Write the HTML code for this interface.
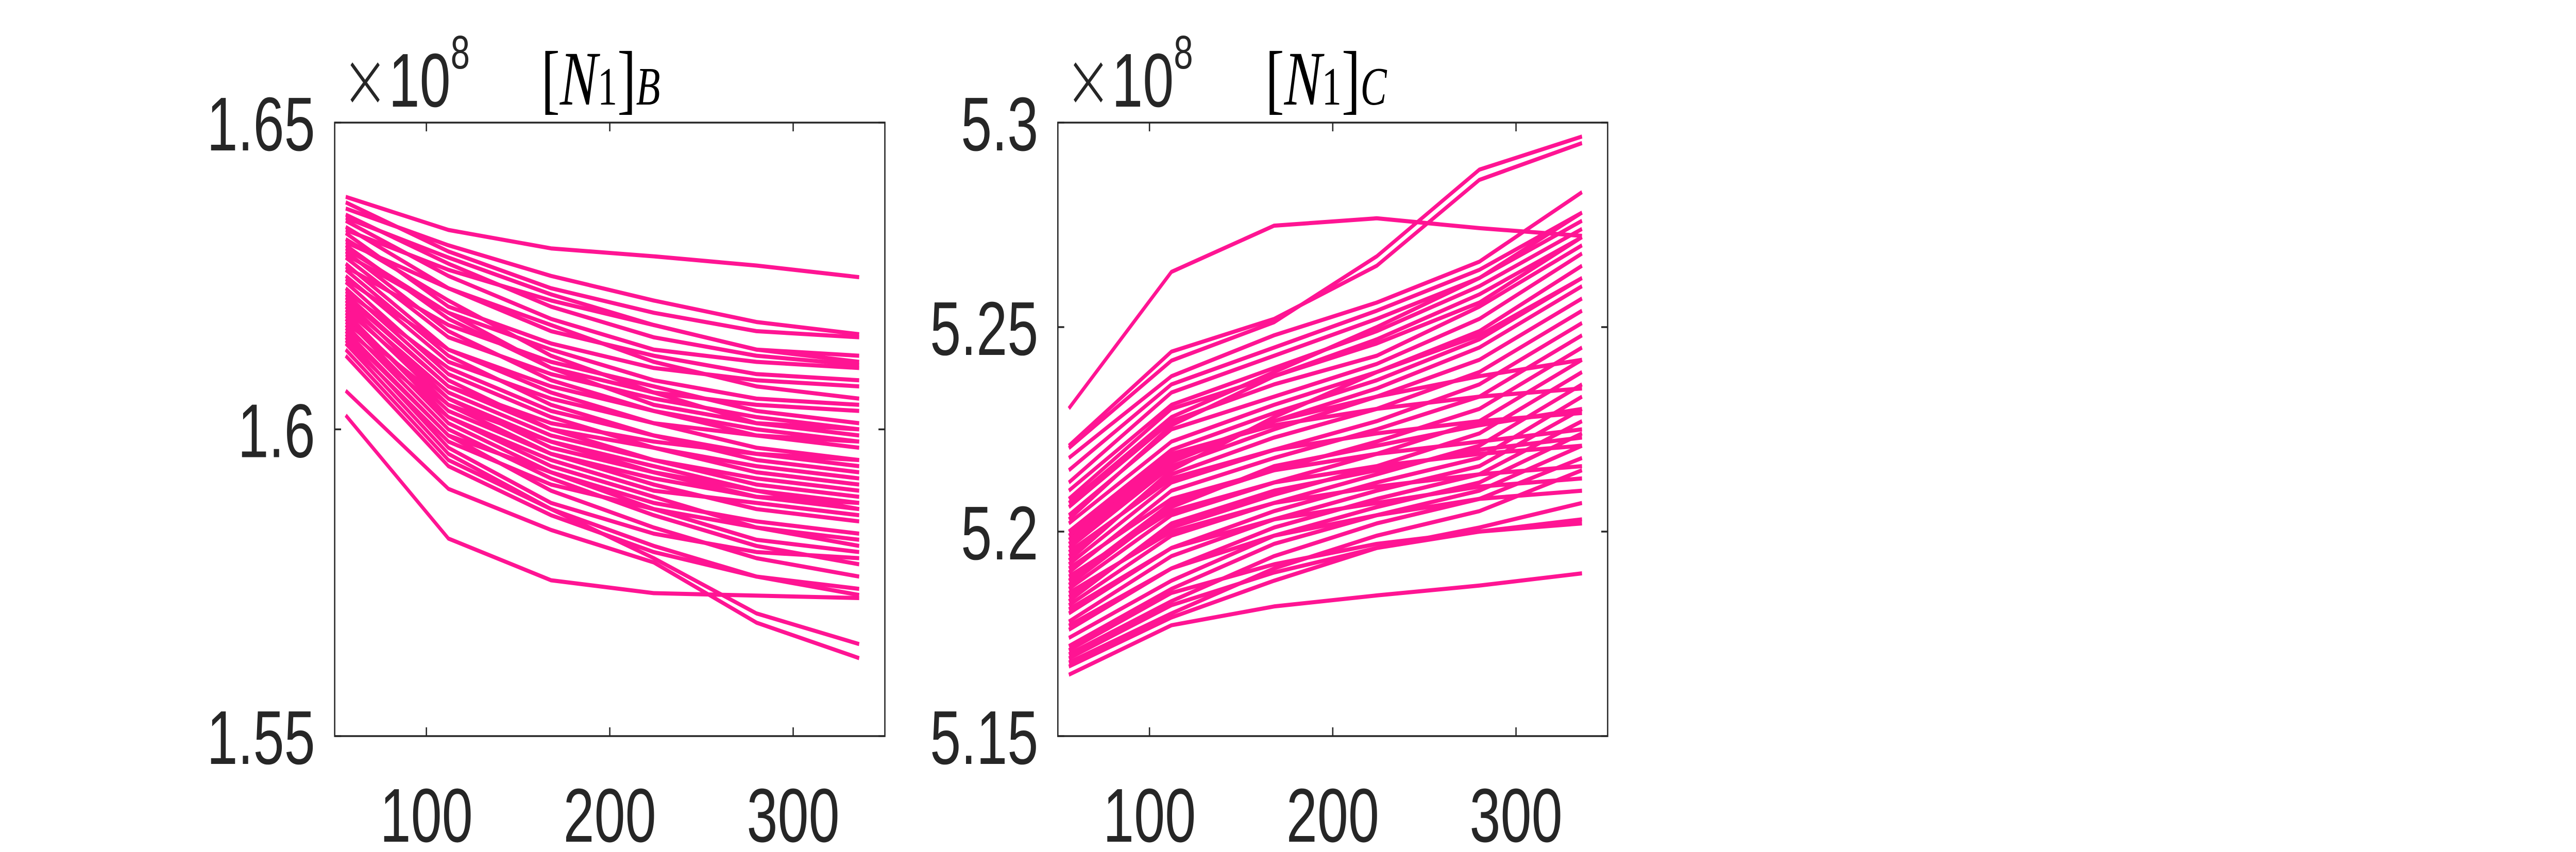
<!DOCTYPE html>
<html><head><meta charset="utf-8"><style>
html,body{margin:0;padding:0;background:#fff;width:100%;height:100%;overflow:hidden;}
svg{display:block;position:fixed;left:0;top:0;width:100vw;height:100vh;}
</style></head><body>
<svg id="fig" viewBox="0 0 6850 1654" preserveAspectRatio="none" xmlns="http://www.w3.org/2000/svg">
<rect x="0" y="0" width="6850" height="1654" fill="#ffffff"/>
</svg>
<script>
const xValues = [56, 112, 168, 224, 280, 336];
const xTicks = [100, 200, 300];
const xTickLabels = ["100", "200", "300"];
const yTicksB = [1.55, 1.6, 1.65];
const yTickLabelsB = ["1.55", "1.6", "1.65"];
const yTicksC = [5.15, 5.2, 5.25, 5.3];
const yTickLabelsC = ["5.15", "5.2", "5.25", "5.3"];
const seriesB = [
[1.6379,1.6325,1.6295,1.6282,1.6267,1.6248],
[1.6023,1.5822,1.5754,1.5733,1.5729,1.5725],
[1.6063,1.5903,1.5836,1.5783,1.5685,1.5627],
[1.6370,1.6290,1.6230,1.6190,1.6160,1.6150],
[1.6360,1.6300,1.6250,1.6210,1.6175,1.6155],
[1.6350,1.6270,1.6200,1.6150,1.6120,1.6105],
[1.6340,1.6250,1.6180,1.6130,1.6110,1.6100],
[1.6330,1.6230,1.6160,1.6120,1.6090,1.6080],
[1.6320,1.6200,1.6140,1.6100,1.6080,1.6070],
[1.6310,1.6210,1.6120,1.6060,1.6010,1.5990],
[1.6300,1.6180,1.6100,1.6060,1.6040,1.6030],
[1.6290,1.6160,1.6080,1.6030,1.6000,1.5980],
[1.6280,1.6150,1.6090,1.6050,1.6020,1.6000],
[1.6270,1.6130,1.6060,1.6010,1.5970,1.5950],
[1.6260,1.6120,1.6040,1.5990,1.5950,1.5930],
[1.6250,1.6110,1.6050,1.6010,1.5990,1.5980],
[1.6240,1.6090,1.6020,1.5970,1.5930,1.5910],
[1.6230,1.6080,1.6000,1.5950,1.5910,1.5890],
[1.6220,1.6070,1.6010,1.5980,1.5960,1.5950],
[1.6210,1.6050,1.5980,1.5930,1.5890,1.5870],
[1.6200,1.6040,1.5960,1.5910,1.5870,1.5850],
[1.6190,1.6020,1.5940,1.5890,1.5840,1.5810],
[1.6180,1.6010,1.5930,1.5880,1.5850,1.5830],
[1.6170,1.6000,1.5920,1.5860,1.5810,1.5780],
[1.6160,1.5990,1.5900,1.5840,1.5790,1.5760],
[1.6150,1.5970,1.5880,1.5830,1.5800,1.5790],
[1.6140,1.5960,1.5870,1.5810,1.5760,1.5730],
[1.6120,1.5940,1.5860,1.5800,1.5760,1.5740],
[1.6345,1.6280,1.6220,1.6170,1.6130,1.6110],
[1.6325,1.6260,1.6210,1.6170,1.6130,1.6120],
[1.6305,1.6230,1.6170,1.6110,1.6070,1.6050],
[1.6285,1.6190,1.6130,1.6080,1.6050,1.6040],
[1.6265,1.6170,1.6110,1.6070,1.6030,1.6010],
[1.6245,1.6130,1.6070,1.6030,1.5990,1.5970],
[1.6225,1.6100,1.6030,1.5990,1.5960,1.5940],
[1.6205,1.6060,1.5990,1.5950,1.5920,1.5900],
[1.6185,1.6030,1.5960,1.5920,1.5890,1.5880],
[1.6165,1.6020,1.5950,1.5900,1.5880,1.5860],
[1.6145,1.5980,1.5910,1.5870,1.5840,1.5820],
[1.6130,1.5950,1.5870,1.5790,1.5700,1.5650],
[1.6155,1.5990,1.5930,1.5870,1.5820,1.5800],
[1.6215,1.6070,1.6000,1.5970,1.5940,1.5920],
[1.6295,1.6190,1.6100,1.6040,1.6010,1.6000],
[1.6195,1.6050,1.5970,1.5930,1.5900,1.5880],
[1.6175,1.6040,1.5980,1.5940,1.5900,1.5870]
];
const seriesC = [
[5.2301,5.2635,5.2748,5.2766,5.2742,5.2723],
[5.1650,5.1771,5.1817,5.1844,5.1868,5.1898],
[5.2204,5.2418,5.2512,5.2673,5.2885,5.2966],
[5.2210,5.2440,5.2520,5.2650,5.2860,5.2950],
[5.2180,5.2380,5.2480,5.2560,5.2660,5.2830],
[5.2150,5.2360,5.2450,5.2540,5.2640,5.2780],
[5.2120,5.2340,5.2430,5.2520,5.2620,5.2760],
[5.2100,5.2310,5.2400,5.2490,5.2600,5.2740],
[5.2080,5.2300,5.2380,5.2470,5.2580,5.2720],
[5.2060,5.2270,5.2360,5.2430,5.2550,5.2700],
[5.2040,5.2250,5.2330,5.2410,5.2520,5.2680],
[5.2020,5.2220,5.2310,5.2390,5.2490,5.2650],
[5.2000,5.2200,5.2290,5.2370,5.2470,5.2620],
[5.1980,5.2180,5.2270,5.2350,5.2450,5.2600],
[5.1960,5.2160,5.2250,5.2330,5.2420,5.2570],
[5.1940,5.2140,5.2230,5.2300,5.2390,5.2540],
[5.1920,5.2120,5.2200,5.2270,5.2360,5.2510],
[5.1900,5.2100,5.2180,5.2250,5.2330,5.2480],
[5.1880,5.2070,5.2150,5.2220,5.2300,5.2450],
[5.1860,5.2040,5.2120,5.2190,5.2270,5.2420],
[5.1840,5.2010,5.2090,5.2160,5.2240,5.2390],
[5.1820,5.1990,5.2070,5.2140,5.2210,5.2360],
[5.1800,5.1960,5.2050,5.2120,5.2180,5.2330],
[5.1780,5.1940,5.2030,5.2100,5.2160,5.2300],
[5.1760,5.1910,5.2010,5.2080,5.2140,5.2270],
[5.1740,5.1880,5.1990,5.2060,5.2120,5.2240],
[5.1720,5.1860,5.1970,5.2040,5.2100,5.2210],
[5.1700,5.1830,5.1940,5.2020,5.2080,5.2180],
[5.1680,5.1800,5.1910,5.1990,5.2050,5.2150],
[5.1670,5.1790,5.1880,5.1960,5.2010,5.2070],
[5.1690,5.1820,5.1900,5.1960,5.2000,5.2030],
[5.1710,5.1850,5.1920,5.1970,5.2000,5.2020],
[5.1930,5.2150,5.2280,5.2390,5.2480,5.2620],
[5.1890,5.2050,5.2120,5.2160,5.2190,5.2210],
[5.1850,5.2000,5.2070,5.2110,5.2140,5.2160],
[5.1810,5.1960,5.2030,5.2070,5.2110,5.2130],
[5.1770,5.1910,5.1990,5.2040,5.2080,5.2100],
[5.1990,5.2190,5.2260,5.2300,5.2330,5.2350],
[5.1950,5.2130,5.2200,5.2240,5.2270,5.2290],
[5.1910,5.2080,5.2150,5.2190,5.2220,5.2250],
[5.2070,5.2280,5.2390,5.2500,5.2620,5.2780],
[5.2030,5.2260,5.2380,5.2460,5.2560,5.2720],
[5.1870,5.2060,5.2160,5.2210,5.2260,5.2300],
[5.1830,5.2020,5.2100,5.2150,5.2200,5.2230],
[5.1970,5.2170,5.2270,5.2330,5.2380,5.2420]
];

const NS = "http://www.w3.org/2000/svg";
const svg = document.getElementById("fig");
function mk(tag, attrs, parent) {
  const e = document.createElementNS(NS, tag);
  for (const k in attrs) e.setAttribute(k, attrs[k]);
  (parent || svg).appendChild(e);
  return e;
}

function drawPanel(p) {
  const g = mk("g", {});
  
  
  const xs = v => p.x0 + (v - 50) / 300 * (p.x1 - p.x0);
  const ys = v => p.y1 - (v - p.ymin) / (p.ymax - p.ymin) * (p.y1 - p.y0);
  const sg = mk("g", {}, g);
  
  
  p.series.forEach((s) => {
    const pts = s.map((v, j) => xs(xValues[j]).toFixed(1) + "," + ys(v).toFixed(1)).join(" ");
    const pl = mk("polyline", {points: pts, fill: "none", stroke: "#FF1493", "stroke-width": 8, "stroke-linejoin": "round"}, sg);
    
    
  });
  const box = mk("rect", {x: p.x0, y: p.y0, width: p.x1 - p.x0, height: p.y1 - p.y0, fill: "none", stroke: "#262626", "stroke-width": 3.5}, g);
  
  
  xTicks.forEach((t, i) => {
    const x = xs(t);
    mk("line", {x1: x, x2: x, y1: p.y1, y2: p.y1 - 17, stroke: "#262626", "stroke-width": 3.5}, g);
    mk("line", {x1: x, x2: x, y1: p.y0, y2: p.y0 + 17, stroke: "#262626", "stroke-width": 3.5}, g);
    const tx = mk("text", {x: x, y: p.y1 + 205, "text-anchor": "middle", "font-size": 148, fill: "#262626", "font-family": "Liberation Sans, sans-serif"}, g);
    tx.textContent = xTickLabels[i];
    
    
  });
  p.yTicks.forEach((t, i) => {
    const y = ys(t);
    mk("line", {x1: p.x0, x2: p.x0 + 17, y1: y, y2: y, stroke: "#262626", "stroke-width": 3.5}, g);
    mk("line", {x1: p.x1, x2: p.x1 - 17, y1: y, y2: y, stroke: "#262626", "stroke-width": 3.5}, g);
    const ty = mk("text", {x: p.x0 - 52, y: y + 54, "text-anchor": "end", "font-size": 148, fill: "#262626", "font-family": "Liberation Sans, sans-serif"}, g);
    ty.textContent = p.yLabels[i];
    
    
  });
  const ex = mk("text", {x: p.x0 + 18, y: 207, "font-size": 148, fill: "#262626", "font-family": "Liberation Sans, sans-serif"}, g);
  
  
  ex.innerHTML = '<tspan font-size="150" font-family="DejaVu Sans, sans-serif" font-weight="200">×</tspan>10<tspan font-size="92" dy="-74">8</tspan>';
  const ti = mk("text", {x: p.tx, y: 203, "font-size": 150, fill: "#000", "font-family": "Liberation Serif, serif"}, g);
  
  
  ti.innerHTML = '[<tspan font-style="italic">N</tspan><tspan font-size="105">1</tspan>]<tspan font-style="italic" font-size="105">' + p.sub + '</tspan>';
}

drawPanel({name: "panel-n1-b", x0: 890, x1: 2353, y0: 238, y1: 1429, ymin: 1.55, ymax: 1.65,
  series: seriesB, yTicks: yTicksB, yLabels: yTickLabelsB, tx: 1439, sub: "B"});
drawPanel({name: "panel-n1-c", x0: 2813, x1: 4275, y0: 238, y1: 1429, ymin: 5.15, ymax: 5.3,
  series: seriesC, yTicks: yTicksC, yLabels: yTickLabelsC, tx: 3365, sub: "C"});
</script>
</body></html>
